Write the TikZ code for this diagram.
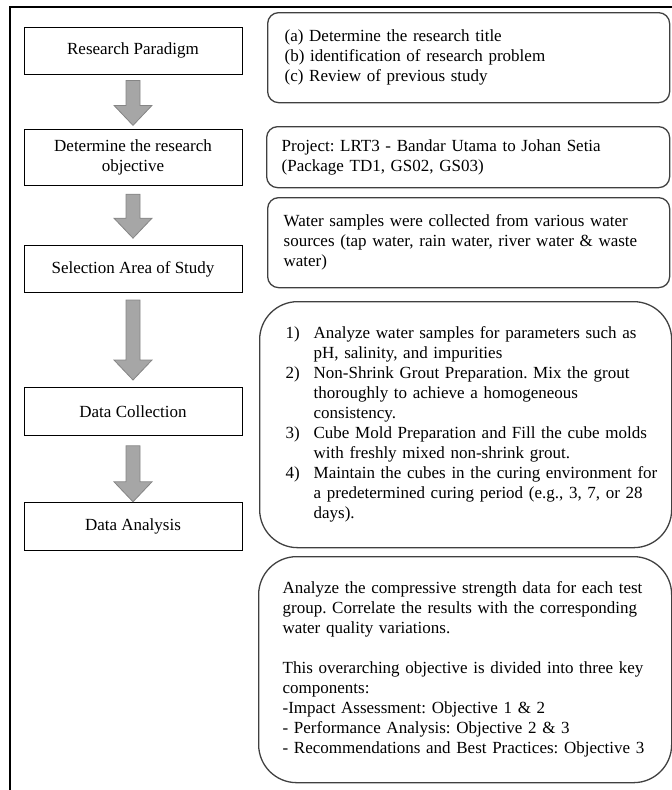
\documentclass[tikz,border=0pt]{standalone}
\usepackage{fontspec}
\setmainfont{Liberation Serif}
\usetikzlibrary{positioning}

\definecolor{arrowgray}{HTML}{A6A6A6}
\definecolor{arrowedge}{HTML}{858585}

% block arrow from the bottom of #1 to the top of #2, gaps #3 and #4
\newcommand{\blockarrow}[4]{%
  \filldraw[flowarrow] ([xshift=-7pt,yshift=-#3]#1.south)
    -- ([xshift=-7pt,yshift=#4+20pt]#2.north)
    -- ([xshift=-19pt,yshift=#4+20pt]#2.north)
    -- ([yshift=#4]#2.north)
    -- ([xshift=19pt,yshift=#4+20pt]#2.north)
    -- ([xshift=7pt,yshift=#4+20pt]#2.north)
    -- ([xshift=7pt,yshift=-#3]#1.south) -- cycle;}

\begin{document}
\begin{tikzpicture}[x=1pt, y=-1pt,
    font=\fontsize{17}{20}\selectfont\frenchspacing,
    stagebox/.style={draw=black, line width=0.8pt, minimum width=218pt,
      minimum height=47pt, inner sep=2pt, align=center},
    notebox/.style={draw=black!75, line width=1.3pt, rounded corners=11pt,
      anchor=north west, inner ysep=0pt, align=left},
    flowarrow/.style={fill=arrowgray, draw=arrowedge, line width=0.8pt}]
  \useasboundingbox (0,0) rectangle (672,790);

  % outer frame, open at right and bottom
  \draw[line width=2.4pt] (10,790) -- (10,7) -- (672,7);

  \node[stagebox] (paradigm) at (133,50.5) {Research Paradigm};
  \node[stagebox, below=55pt of paradigm, minimum height=56pt] (objective)
    {Determine the research\\objective};
  \node[stagebox, below=59pt of objective] (area) {Selection Area of Study};
  \node[stagebox, below=94pt of area, minimum height=48pt] (collection)
    {Data Collection};
  \node[stagebox, below=66pt of collection, minimum height=48pt] (analysis)
    {Data Analysis};

  \blockarrow{paradigm}{objective}{6pt}{4pt}
  \blockarrow{objective}{area}{8pt}{7pt}
  \blockarrow{area}{collection}{7pt}{7pt}
  \blockarrow{collection}{analysis}{10pt}{0pt}

  \node[notebox, inner xsep=17pt, text width=368pt, minimum height=90pt]
    (notetitle) at (267,12)
    {(a) Determine the research title\\
     (b) identification of research problem\\
     (c) Review of previous study};
  \node[notebox, inner xsep=15pt, text width=373pt, minimum height=61pt]
    (noteproject) at (266,126)
    {Project: LRT3 - Bandar Utama to Johan Setia\\
     (Package TD1, GS02, GS03)};
  \node[notebox, inner xsep=16pt, text width=370pt, minimum height=90pt]
    (notesamples) at (267,197)
    {Water samples were collected from various water\\
     sources (tap water, rain water, river water \& waste\\
     water)};
  \node[notebox, rounded corners=38pt, inner xsep=26pt, text width=360pt,
    minimum height=246pt] (notesteps) at (259,301)
    {\begin{tabular}{@{}p{28pt}@{}l@{}}
     1) & Analyze water samples for parameters such as\\
        & pH, salinity, and impurities\\
     2) & Non-Shrink Grout Preparation. Mix the grout\\
        & thoroughly to achieve a homogeneous\\
        & consistency.\\
     3) & Cube Mold Preparation and Fill the cube molds\\
        & with freshly mixed non-shrink grout.\\
     4) & Maintain the cubes in the curing environment for\\
        & a predetermined curing period (e.g., 3, 7, or 28\\
        & days).
     \end{tabular}};
  \node[notebox, rounded corners=38pt, inner xsep=24pt, text width=365pt,
    minimum height=226pt] (noteresults) at (258,556)
    {Analyze the compressive strength data for each test\\
     group. Correlate the results with the corresponding\\
     water quality variations.\\[20pt]
     This overarching objective is divided into three key\\
     components:\\
     -Impact Assessment: Objective 1 \& 2\\
     - Performance Analysis: Objective 2 \& 3\\
     - Recommendations and Best Practices: Objective 3};
\end{tikzpicture}
\end{document}
